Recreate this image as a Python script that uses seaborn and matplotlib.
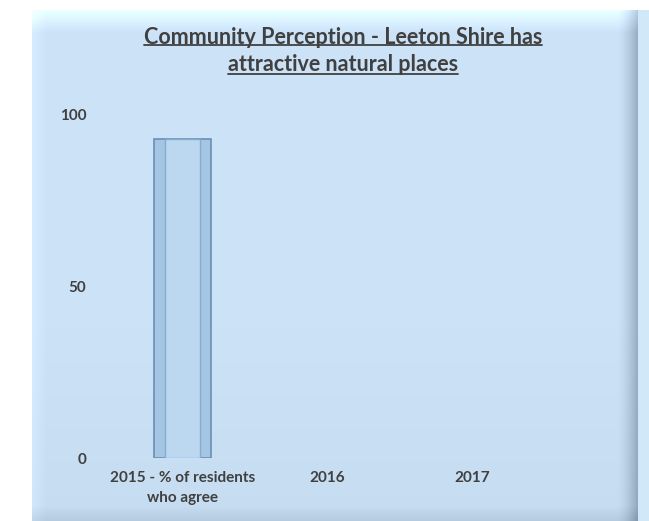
import numpy as np
import pandas as pd
import matplotlib
matplotlib.use("Agg")
import matplotlib.pyplot as plt
import seaborn as sns
from matplotlib.lines import Line2D

categories = ["2015 - % of residents\nwho agree", "2016", "2017"]
values = [93, np.nan, np.nan]
yticks = [0, 50, 100]
title = "Community Perception - Leeton Shire has\nattractive natural places"

df = pd.DataFrame({"category": categories, "value": values})

sns.set_theme(style="white")
plt.rcParams["font.family"] = ["Lato", "DejaVu Sans"]

W, H = 649, 521
fig = plt.figure(figsize=(W / 100, H / 100), dpi=100)
fig.patch.set_facecolor("white")

# background panel: light blue with bevelled edges
bg = fig.add_axes([0, 0, 1, 1])
bg.set_axis_off()
yy, xx = np.mgrid[0:H, 0:W].astype(float)
base = np.array([0.80, 0.89, 0.97])
img = np.ones((H, W, 3)) * base
vert = (yy - 10) / (H - 10)
img = img - (0.06 * np.clip(vert - 0.6, 0, 1))[..., None]
# top bevel lighter
top = np.clip(1 - (yy - 10) / 22, 0, 1)
img = img + (0.12 * top)[..., None]
# left bevel
left = np.clip(1 - (xx - 32) / 14, 0, 1)
img = img + (0.04 * left)[..., None]
# right bevel darker
right = np.clip(1 - (638 - xx) / 22, 0, 1)
img = img - (0.22 * right ** 1.6)[..., None]
# bottom bevel darker
bot = np.clip(1 - (H - yy) / 16, 0, 1)
img = img - (0.07 * bot)[..., None]
img = np.clip(img, 0, 1)
img[:10, :, :] = 1.0
img[:, :32, :] = 1.0
img[10:, 638:, :] = [0.82, 0.91, 0.98]
bg.imshow(img, extent=[0, W, H, 0], aspect="auto", interpolation="bilinear")
bg.set_xlim(0, W)
bg.set_ylim(H, 0)

ax = fig.add_axes([110 / W, 1 - 458 / H, 435 / W, 343 / H])
ax.patch.set_alpha(0)
sns.barplot(data=df, x="category", y="value", ax=ax, width=0.39,
            color="#a4c6e4", edgecolor="#6a8fb3", linewidth=1.2, saturation=1)
sns.barplot(data=df, x="category", y="value", ax=ax, width=0.24,
            color="#bcd8f1", edgecolor="#86abcf", linewidth=1.0, saturation=1)
ax.set_xlim(-0.5, 2.5)
ax.set_ylim(0, 100)
ax.set_yticks(yticks)
ax.set_xlabel("")
ax.set_ylabel("")
for s in ax.spines.values():
    s.set_visible(False)
ax.tick_params(axis="both", length=0, colors="#404040")
ax.tick_params(axis="y", pad=17)
ax.tick_params(axis="x", pad=9)
for lab in ax.get_xticklabels() + ax.get_yticklabels():
    lab.set_fontweight("bold")
    lab.set_fontsize(11)
    lab.set_color("#404040")
for lab in ax.get_xticklabels():
    lab.set_linespacing(1.6)

fs = 15.5
fig.text(343 / W, 1 - 51 / H, title, ha="center", va="center",
         fontsize=fs, fontweight="bold", color="#404040", linespacing=1.3)

# underline each title line
fig.canvas.draw()
r = fig.canvas.get_renderer()
for i, line in enumerate(title.split("\n")):
    tmp = fig.text(0, 0, line, fontsize=fs, fontweight="bold")
    w = tmp.get_window_extent(r).width
    tmp.remove()
    yline = 1 - [45, 74][i] / H
    fig.add_artist(Line2D([(343 - w / 2) / W, (343 + w / 2) / W], [yline, yline],
                          transform=fig.transFigure, color="#404040", lw=1.3))

fig.savefig("out.png", dpi=100)
